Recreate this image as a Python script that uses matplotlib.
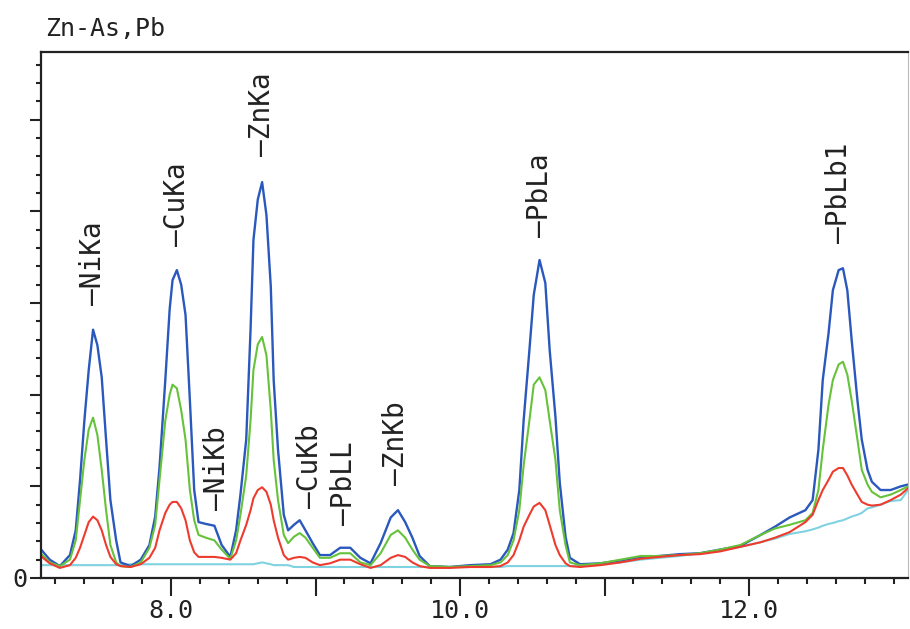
import matplotlib.pyplot as plt
from matplotlib.ticker import MultipleLocator, FixedLocator, FuncFormatter

# energy axis (keV) shared by all four spectra
energy = [7.09, 7.16, 7.23, 7.30, 7.34, 7.37, 7.40, 7.43, 7.46, 7.49,
          7.52, 7.55, 7.58, 7.62, 7.65, 7.72, 7.79, 7.85, 7.89, 7.92,
          7.96, 7.99, 8.01, 8.04, 8.07, 8.10, 8.13, 8.16, 8.19, 8.24,
          8.30, 8.35, 8.41, 8.45, 8.48, 8.52, 8.55, 8.57, 8.60, 8.63,
          8.66, 8.69, 8.71, 8.74, 8.78, 8.81, 8.85, 8.89, 8.93, 8.98,
          9.03, 9.10, 9.17, 9.24, 9.31, 9.38, 9.45, 9.52, 9.57, 9.62,
          9.67, 9.72, 9.79, 9.93, 10.07, 10.21, 10.28, 10.33, 10.37, 10.41,
          10.44, 10.48, 10.51, 10.55, 10.59, 10.62, 10.66, 10.69, 10.73, 10.76,
          10.83, 10.97, 11.11, 11.25, 11.38, 11.52, 11.66, 11.80, 11.94, 12.08,
          12.18, 12.28, 12.39, 12.44, 12.48, 12.51, 12.55, 12.58, 12.62, 12.65,
          12.68, 12.71, 12.75, 12.78, 12.82, 12.85, 12.91, 12.98, 13.05, 13.10]

blue = [0.33, 0.20, 0.13, 0.25, 0.52, 1.07, 1.72, 2.27, 2.71, 2.54,
        2.19, 1.51, 0.85, 0.41, 0.17, 0.13, 0.20, 0.36, 0.67, 1.21,
        2.16, 2.93, 3.25, 3.36, 3.20, 2.87, 1.94, 0.96, 0.61, 0.59,
        0.57, 0.36, 0.23, 0.52, 0.91, 1.51, 2.71, 3.69, 4.13, 4.32,
        3.96, 3.18, 2.16, 1.40, 0.69, 0.52, 0.58, 0.63, 0.52, 0.38,
        0.25, 0.25, 0.33, 0.33, 0.22, 0.16, 0.38, 0.66, 0.74, 0.61,
        0.44, 0.24, 0.13, 0.12, 0.14, 0.15, 0.20, 0.31, 0.49, 0.96,
        1.72, 2.49, 3.09, 3.47, 3.22, 2.49, 1.76, 1.04, 0.45, 0.22,
        0.15, 0.16, 0.19, 0.23, 0.24, 0.26, 0.27, 0.31, 0.35, 0.47,
        0.56, 0.66, 0.74, 0.85, 1.40, 2.16, 2.67, 3.14, 3.36, 3.38,
        3.14, 2.60, 1.94, 1.51, 1.18, 1.05, 0.96, 0.96, 1.00, 1.02]

green = [0.28, 0.17, 0.13, 0.20, 0.41, 0.85, 1.29, 1.62, 1.75, 1.56,
         1.18, 0.74, 0.36, 0.17, 0.13, 0.12, 0.17, 0.33, 0.58, 1.07,
         1.72, 2.00, 2.11, 2.07, 1.83, 1.51, 0.96, 0.63, 0.47, 0.44,
         0.41, 0.31, 0.21, 0.41, 0.69, 1.12, 1.72, 2.27, 2.55, 2.63,
         2.43, 1.83, 1.29, 0.85, 0.47, 0.38, 0.45, 0.49, 0.44, 0.33,
         0.22, 0.22, 0.27, 0.27, 0.17, 0.14, 0.27, 0.47, 0.52, 0.44,
         0.31, 0.20, 0.13, 0.12, 0.13, 0.14, 0.17, 0.25, 0.41, 0.74,
         1.23, 1.72, 2.11, 2.19, 2.05, 1.72, 1.29, 0.74, 0.36, 0.17,
         0.14, 0.16, 0.20, 0.24, 0.24, 0.25, 0.27, 0.31, 0.36, 0.47,
         0.54, 0.58, 0.63, 0.71, 0.96, 1.40, 1.89, 2.16, 2.33, 2.36,
         2.22, 1.94, 1.51, 1.18, 1.02, 0.94, 0.88, 0.91, 0.96, 1.00]

red = [0.25, 0.16, 0.11, 0.14, 0.22, 0.33, 0.47, 0.61, 0.67, 0.63,
       0.52, 0.36, 0.23, 0.15, 0.13, 0.12, 0.15, 0.22, 0.33, 0.52,
       0.71, 0.80, 0.83, 0.83, 0.76, 0.63, 0.41, 0.28, 0.23, 0.23,
       0.23, 0.22, 0.20, 0.27, 0.41, 0.58, 0.74, 0.87, 0.96, 0.99,
       0.94, 0.80, 0.63, 0.44, 0.25, 0.20, 0.22, 0.23, 0.22, 0.17,
       0.14, 0.16, 0.20, 0.20, 0.15, 0.11, 0.14, 0.22, 0.25, 0.23,
       0.17, 0.13, 0.11, 0.11, 0.12, 0.12, 0.13, 0.17, 0.25, 0.41,
       0.56, 0.69, 0.78, 0.82, 0.74, 0.58, 0.36, 0.25, 0.16, 0.13,
       0.12, 0.14, 0.17, 0.21, 0.23, 0.25, 0.26, 0.29, 0.34, 0.39,
       0.44, 0.50, 0.61, 0.69, 0.85, 0.96, 1.07, 1.16, 1.20, 1.20,
       1.12, 1.02, 0.91, 0.83, 0.80, 0.79, 0.80, 0.85, 0.91, 0.98]

background = [0.14, 0.14, 0.14, 0.14, 0.14, 0.14, 0.14, 0.14, 0.14, 0.14,
              0.14, 0.14, 0.14, 0.14, 0.14, 0.15, 0.15, 0.15, 0.15, 0.15,
              0.15, 0.15, 0.15, 0.15, 0.15, 0.15, 0.15, 0.15, 0.15, 0.15,
              0.15, 0.15, 0.15, 0.15, 0.15, 0.15, 0.15, 0.15, 0.16, 0.17,
              0.16, 0.15, 0.14, 0.14, 0.14, 0.14, 0.12, 0.12, 0.12, 0.12,
              0.12, 0.12, 0.12, 0.12, 0.12, 0.12, 0.12, 0.12, 0.12, 0.12,
              0.12, 0.12, 0.12, 0.12, 0.12, 0.12, 0.12, 0.13, 0.13, 0.13,
              0.13, 0.13, 0.13, 0.13, 0.13, 0.13, 0.13, 0.13, 0.13, 0.13,
              0.13, 0.15, 0.17, 0.20, 0.22, 0.24, 0.27, 0.30, 0.34, 0.39,
              0.43, 0.48, 0.51, 0.53, 0.55, 0.57, 0.59, 0.60, 0.62, 0.63,
              0.65, 0.67, 0.69, 0.71, 0.76, 0.77, 0.80, 0.84, 0.85, 0.96]

# peak markers: name, energy, height of the marker foot
line_names = ["NiKa", "CuKa", "NiKb", "ZnKa", "CuKb", "PbLL", "ZnKb", "PbLa", "PbLb1"]
line_energy = [7.46, 8.04, 8.32, 8.63, 8.96, 9.20, 9.56, 10.55, 12.62]
line_height = [2.98, 3.62, 0.74, 4.60, 0.76, 0.58, 1.02, 3.72, 3.66]

mono = "DejaVu Sans Mono"
ink = "#222222"

fig = plt.figure(figsize=(9.1, 6.29), dpi=100)
ax = fig.add_axes([0.0451, 0.0811, 0.9527, 0.8362])

ax.plot(energy, background, color="#7fd2e0", lw=1.5)
ax.plot(energy, blue, color="#2a58bd", lw=1.7)
ax.plot(energy, green, color="#66c23a", lw=1.5)
ax.plot(energy, red, color="#ee3b2e", lw=1.5)

for name, e, h in zip(line_names, line_energy, line_height):
    ax.text(e, h, "\u2014" + name, rotation=90, ha="center", va="bottom",
            fontsize=20, family=mono, color=ink)

ax.set_xlim(7.10, 13.10)
ax.set_ylim(0, 5.74)

ax.xaxis.set_major_locator(FixedLocator([8, 9, 10, 11, 12]))
ax.xaxis.set_major_formatter(FuncFormatter(lambda v, p: f"{v:.1f}" if v % 2 == 0 else ""))
ax.xaxis.set_minor_locator(MultipleLocator(0.2))
ax.yaxis.set_major_locator(MultipleLocator(1))
ax.yaxis.set_major_formatter(FuncFormatter(lambda v, p: "0" if abs(v) < 1e-9 else ""))
ax.yaxis.set_minor_locator(MultipleLocator(0.2))

ax.tick_params(axis="x", which="major", length=13, width=1.5, pad=2,
               labelsize=18, colors=ink)
ax.tick_params(axis="x", which="minor", length=4, width=1.5, colors=ink)
ax.tick_params(axis="y", which="major", length=8, width=1.5, pad=2,
               labelsize=18, colors=ink)
ax.tick_params(axis="y", which="minor", length=3.5, width=1.5, colors=ink)
for lab in ax.get_xticklabels() + ax.get_yticklabels():
    lab.set_family(mono)

for side in ["left", "bottom", "top"]:
    ax.spines[side].set_linewidth(1.6)
    ax.spines[side].set_color(ink)
ax.spines["right"].set_color("#bbbbbb")
ax.spines["right"].set_linewidth(0.8)

fig.text(45 / 910, 1 - 36 / 629, "Zn-As,Pb", family=mono, fontsize=18,
         color=ink, ha="left", va="baseline")

fig.savefig("out.png", dpi=100)
